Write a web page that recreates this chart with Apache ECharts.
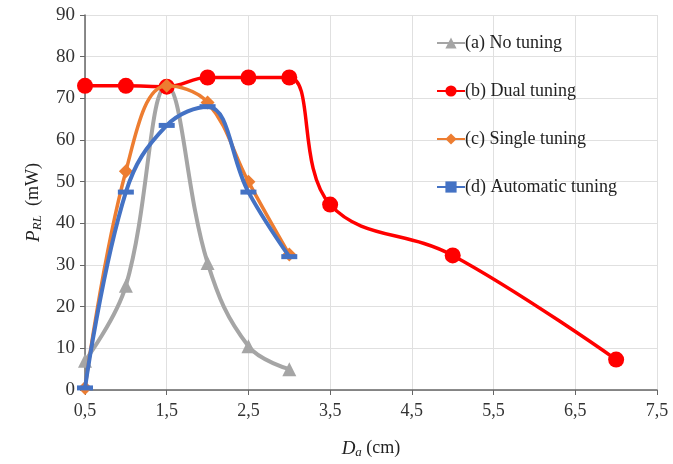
<!DOCTYPE html>
<html><head><meta charset="utf-8">
<script src="https://cdn.jsdelivr.net/npm/echarts@6/dist/echarts.min.js"></script>
<style>html,body{margin:0;padding:0;background:#fff}#c{width:673px;height:464px}</style>
</head><body><div id="c"></div>
<script>
const xNoTuning = [0.5, 1, 1.5, 2, 2.5, 3];
const yNoTuning = [7, 25, 73, 30.5, 10.5, 5];
const xDual = [0.5, 1, 1.5, 2, 2.5, 3, 3.5, 5, 7];
const yDual = [73, 73, 72.8, 75, 75, 75, 44.5, 32.3, 7.3];
const xSingle = [0.5, 1, 1.5, 2, 2.5, 3];
const ySingle = [0.5, 52.5, 73, 69, 50, 32.5];
const xAuto = [0.5, 1, 1.5, 2, 2.5, 3];
const yAuto = [0.5, 47.5, 63.5, 68, 47.5, 32];
const seriesNames = ['(a) No tuning', '(b) Dual tuning', '(c) Single tuning', '(d) Automatic tuning'];

const pair = (xs, ys) => xs.map((x, i) => [x, ys[i]]);
const font = 'Liberation Serif';
const chart = echarts.init(document.getElementById('c'));
chart.setOption({
  animation: false,
  textStyle: { fontFamily: font },
  grid: { left: 85, right: 16, top: 15, bottom: 70 },
  legend: {
    orient: 'vertical', left: 431, top: 29, itemGap: 30, itemWidth: 28, itemHeight: 14,
    textStyle: { fontFamily: font, fontSize: 18, color: '#222', padding: [0, 0, 0, -5] },
    data: seriesNames
  },
  xAxis: {
    type: 'value', min: 0.5, max: 7.5, interval: 1,
    axisLine: { lineStyle: { color: '#666', width: 1.5 } },
    axisTick: { show: true, length: 5, lineStyle: { color: '#666' } },
    axisLabel: { fontFamily: font, fontSize: 18, color: '#333', margin: 12,
      formatter: v => v.toFixed(1).replace('.', ',') },
    splitLine: { show: true, lineStyle: { color: '#e0e0e0' } },
    name: '{i|D}{s|a} (cm)', nameLocation: 'middle', nameGap: 48,
    nameTextStyle: { fontFamily: font, fontSize: 18, color: '#222',
      rich: { i: { fontStyle: 'italic', fontSize: 19, fontFamily: font, color: '#222' },
              s: { fontStyle: 'italic', fontSize: 13, fontFamily: font, verticalAlign: 'bottom', padding: [8, 0, 0, 0], color: '#222' } } }
  },
  yAxis: {
    type: 'value', min: 0, max: 90, interval: 10,
    axisLine: { show: true, lineStyle: { color: '#666', width: 1.5 } },
    axisTick: { show: true, length: 5, lineStyle: { color: '#666' } },
    axisLabel: { fontFamily: font, fontSize: 19, color: '#333', margin: 10 },
    splitLine: { show: true, lineStyle: { color: '#e0e0e0' } },
    name: '{i|P}{s|RL}  (mW)', nameLocation: 'middle', nameGap: 41, nameRotate: 90,
    nameTextStyle: { fontFamily: font, fontSize: 18, color: '#222',
      rich: { i: { fontStyle: 'italic', fontSize: 19, fontFamily: font, color: '#222' },
              s: { fontStyle: 'italic', fontSize: 13, fontFamily: font, verticalAlign: 'bottom', padding: [8, 0, 0, 0], color: '#222' } } }
  },
  series: [
    { name: seriesNames[0], type: 'line', smooth: 0.4, data: pair(xNoTuning, yNoTuning),
      symbol: 'triangle', symbolSize: 14, z: 2,
      lineStyle: { color: '#a5a5a5', width: 4 }, itemStyle: { color: '#a5a5a5' } },
    { name: seriesNames[1], type: 'line', smooth: 0.4, data: pair(xDual, yDual),
      symbol: 'circle', symbolSize: 16, z: 3,
      lineStyle: { color: '#ff0000', width: 3.5 }, itemStyle: { color: '#ff0000' } },
    { name: seriesNames[2], type: 'line', smooth: 0.4, data: pair(xSingle, ySingle),
      symbol: 'diamond', symbolSize: 14, z: 4,
      lineStyle: { color: '#ed7d31', width: 3.5 }, itemStyle: { color: '#ed7d31' } },
    { name: seriesNames[3], type: 'line', smooth: 0.4, data: pair(xAuto, yAuto),
      symbol: 'rect', symbolSize: [16, 5], z: 5,
      lineStyle: { color: '#4472c4', width: 4 }, itemStyle: { color: '#4472c4' } }
  ]
});
</script></body></html>
